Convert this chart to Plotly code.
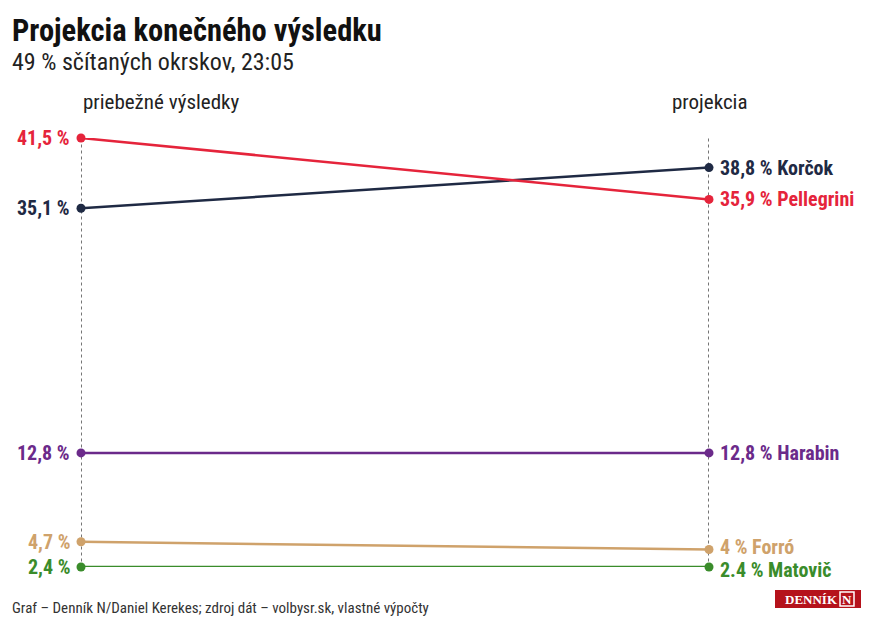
import plotly.graph_objects as go

# data
candidates = ["Korčok", "Pellegrini", "Harabin", "Forró", "Matovič"]
current = [35.1, 41.5, 12.8, 4.7, 2.4]
projection = [38.8, 35.9, 12.8, 4.0, 2.4]
current_labels = ["35,1 %", "41,5 %", "12,8 %", "4,7 %", "2,4 %"]
projection_labels = ["38,8 % Korčok", "35,9 % Pellegrini", "12,8 % Harabin", "4 % Forró", "2.4 % Matovič"]
colors = ["#1f2a44", "#e5243b", "#6b2a8a", "#cfa26b", "#3a8c2b"]
columns = ["priebežné výsledky", "projekcia"]

FONT = "Roboto Condensed, Liberation Sans Narrow, Roboto, sans-serif"

# the page puts the figure 8px in from the top-left corner
OFF = 8
W, H = 872, 630
L, R, T, B = 81 - OFF, W - (709 - OFF), 138 - OFF, H - (567 - OFF)
pw, ph = W - L - R, H - T - B

def px(x):
    return (x - OFF - L) / pw

def py(y):
    return (H - B - (y - OFF)) / ph

fig = go.Figure()

# dashed guide lines
for xv in [0, 1]:
    fig.add_shape(type="line", x0=xv, x1=xv, y0=1.8, y1=41.5, xref="x", yref="y",
                  line=dict(color="#1a1a1a", width=1.2, dash="3px,3px"), layer="below")

for name, a, b, la, lb, c in zip(candidates, current, projection, current_labels, projection_labels, colors):
    fig.add_trace(go.Scatter(
        x=[0, 1], y=[a, b], mode="lines+markers",
        line=dict(color=c, width=2.5), marker=dict(color=c, size=9),
        cliponaxis=False, showlegend=False, name=name, hoverinfo="skip"))
    fig.add_annotation(x=0, y=a, xref="x", yref="y", text="<b>%s</b>" % la,
                       showarrow=False, xanchor="right", xshift=-9,
                       font=dict(family=FONT, size=20, color=c))
    ys = 0
    if name == "Forró":
        ys = 2
    elif name == "Matovič":
        ys = -3
    fig.add_annotation(x=1, y=b, xref="x", yref="y", text="<b>%s</b>" % lb,
                       showarrow=False, xanchor="left", xshift=9, yshift=ys,
                       font=dict(family=FONT, size=20, color=c))

fig.update_layout(
    width=W, height=H,
    margin=dict(l=L, r=R, t=T, b=B, autoexpand=False),
    paper_bgcolor="white", plot_bgcolor="white",
    xaxis=dict(range=[0, 1], visible=False, fixedrange=True),
    yaxis=dict(range=[2.4, 41.5], visible=False, fixedrange=True),
    font=dict(family=FONT),
)

# column headers
fig.add_annotation(x=px(81), y=py(102), xref="paper", yref="paper", text=columns[0],
                   showarrow=False, xanchor="left", yanchor="middle",
                   font=dict(family=FONT, size=21, color="#222222"))
fig.add_annotation(x=px(709), y=py(102), xref="paper", yref="paper", text=columns[1],
                   showarrow=False, xanchor="center", yanchor="middle",
                   font=dict(family=FONT, size=21, color="#222222"))

# title, subtitle, footer
fig.add_annotation(x=px(10), y=py(11), xref="paper", yref="paper", text="<b>Projekcia konečného výsledku</b>",
                   showarrow=False, xanchor="left", yanchor="top",
                   font=dict(family=FONT, size=30.5, color="#111111"))
fig.add_annotation(x=px(10), y=py(46), xref="paper", yref="paper", text="49 % sčítaných okrskov, 23:05",
                   showarrow=False, xanchor="left", yanchor="top",
                   font=dict(family=FONT, size=24, color="#222222"))
fig.add_annotation(x=px(10), y=py(597), xref="paper", yref="paper",
                   text="Graf – Denník N/Daniel Kerekes; zdroj dát – volbysr.sk, vlastné výpočty",
                   showarrow=False, xanchor="left", yanchor="top",
                   font=dict(family=FONT, size=15, color="#333333"))

# logo
fig.add_shape(type="rect", xref="paper", yref="paper", x0=px(775), x1=px(861), y0=py(608), y1=py(590),
              fillcolor="#b5121b", line=dict(width=0))
fig.add_annotation(x=px(811), y=py(599), xref="paper", yref="paper", text="<b>DENNÍK</b>",
                   showarrow=False, xanchor="center", yanchor="middle",
                   font=dict(family="Liberation Serif, DejaVu Serif, serif", size=13, color="white"))
fig.add_shape(type="rect", xref="paper", yref="paper", x0=px(840), x1=px(854), y0=py(606), y1=py(592),
              fillcolor="#b5121b", line=dict(width=1.5, color="white"))
fig.add_annotation(x=px(847), y=py(599), xref="paper", yref="paper", text="<b>N</b>",
                   showarrow=False, xanchor="center", yanchor="middle",
                   font=dict(family="Liberation Serif, DejaVu Serif, serif", size=13, color="white"))

fig.write_html("out.html")
